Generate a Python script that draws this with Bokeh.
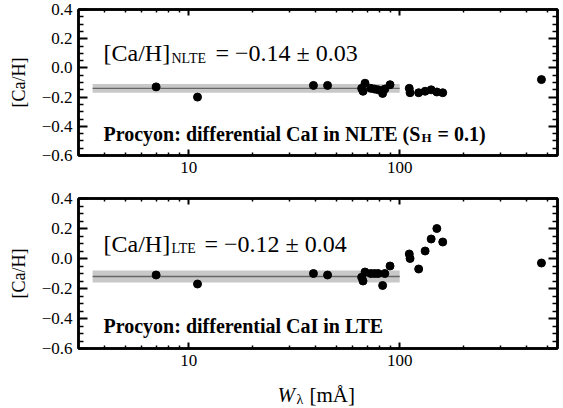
from bokeh.plotting import figure
from bokeh.models import (Range1d, FixedTicker, LogAxis, LinearAxis, Label,
                          CustomJSTickFormatter)
from bokeh.layouts import column
from bokeh.embed import file_html
from bokeh.resources import INLINE

# ---- data ----
w_lambda = [7.0, 11.0, 39.0, 45.5, 66, 67, 68.5, 73, 76, 79, 83, 85, 90,
            111, 112, 123, 132, 141, 150, 160, 470]
ca_nlte = [-0.13, -0.20, -0.12, -0.12, -0.14, -0.16, -0.105, -0.14, -0.145, -0.15,
           -0.175, -0.145, -0.115, -0.14, -0.17, -0.17, -0.16, -0.15, -0.165, -0.17, -0.08]
ca_lte = [-0.11, -0.17, -0.10, -0.11, -0.125, -0.15, -0.09, -0.10, -0.10, -0.10,
          -0.18, -0.10, -0.05, 0.03, 0.0, -0.07, 0.05, 0.13, 0.20, 0.11, -0.03]
nlte_mean, nlte_err = -0.14, 0.03
lte_mean, lte_err = -0.12, 0.04
fit_w_range = [3.5, 100.0]

x_major = [10, 100]
x_minor = [4, 5, 6, 7, 8, 9, 20, 30, 40, 50, 60, 70, 80, 90, 200, 300, 400, 500]
y_major = [-0.6, -0.4, -0.2, 0.0, 0.2, 0.4]
y_minor = [-0.55, -0.5, -0.45, -0.35, -0.3, -0.25, -0.15, -0.1, -0.05,
           0.05, 0.1, 0.15, 0.25, 0.3, 0.35]

FONT = "Liberation Serif"
LEFT, FRAME_W, RIGHT = 78, 479, 4


def fmt(v):
    return ("%.2f" % v).replace("-", "\u2212")


def style_axis(ax, ticks, minor, tick_in, minor_in, show_labels, formatter):
    ax.ticker = FixedTicker(ticks=ticks, minor_ticks=minor)
    ax.axis_line_width = 2.5
    ax.axis_line_color = "black"
    ax.major_tick_in = tick_in
    ax.major_tick_out = 0
    ax.minor_tick_in = minor_in
    ax.minor_tick_out = 0
    ax.major_tick_line_width = 2
    ax.minor_tick_line_width = 1.5
    ax.major_tick_line_color = "black"
    ax.minor_tick_line_color = "black"
    if show_labels:
        ax.formatter = formatter
        ax.major_label_text_font = FONT
        ax.major_label_text_font_size = "17px"
        ax.major_label_text_color = "black"
        ax.major_label_standoff = 6
    else:
        ax.major_label_text_font_size = "0px"
        ax.major_label_standoff = 0
        ax.formatter = CustomJSTickFormatter(code="return ''")


def lab(p, x, y, text, size, style="normal", dy=0, units="screen"):
    p.add_layout(Label(x=x, y=y, y_offset=dy, x_units=units, y_units="data", text=text,
                       text_font=FONT, text_font_size=size, text_font_style=style,
                       text_baseline="alphabetic", text_color="black"))


def make_panel(vals, mean, err, sub, sub_w, rest, bold_main, bold_sub, bold_rest,
               frame_h, border_top, border_bottom):
    p = figure(x_axis_type="log", x_range=Range1d(3.0, 560), y_range=Range1d(-0.6, 0.4),
               frame_width=FRAME_W, frame_height=frame_h,
               min_border_left=LEFT, min_border_right=RIGHT,
               min_border_top=border_top, min_border_bottom=border_bottom,
               output_backend="svg", toolbar_location=None)
    p.grid.visible = False
    p.outline_line_color = "black"
    p.outline_line_width = 2.5
    p.background_fill_color = "white"
    p.border_fill_color = "white"

    xfmt = CustomJSTickFormatter(code="return tick.toFixed(0)")
    yfmt = CustomJSTickFormatter(code="return tick.toFixed(1).replace('-', '\u2212')")
    style_axis(p.xaxis[0], x_major, x_minor, 6, 3, True, xfmt)
    style_axis(p.yaxis[0], y_major, y_minor, 9, 5, True, yfmt)
    p.yaxis[0].axis_label = "[Ca/H]"
    p.yaxis[0].axis_label_text_font = FONT
    p.yaxis[0].axis_label_text_font_style = "normal"
    p.yaxis[0].axis_label_text_font_size = "18px"
    p.yaxis[0].axis_label_text_color = "black"
    p.yaxis[0].axis_label_standoff = 10

    top_ax = LogAxis()
    style_axis(top_ax, x_major, x_minor, 6, 3, False, None)
    p.add_layout(top_ax, "above")
    right_ax = LinearAxis()
    style_axis(right_ax, y_major, y_minor, 9, 5, False, None)
    p.add_layout(right_ax, "right")

    # fit band and mean line
    p.quad(left=[fit_w_range[0]], right=[fit_w_range[1]], bottom=[mean - err], top=[mean + err],
           fill_color="#c8c8c8", line_color=None)
    p.line(fit_w_range, [mean, mean], line_color="#666666", line_width=1.3)

    p.scatter(w_lambda, vals, size=8, fill_color="black", line_color="black")

    # main annotation
    x0 = 25
    lab(p, x0, 0.1, "[Ca/H]", "24px")
    lab(p, x0 + 68, 0.1, sub, "14px", dy=-5)
    lab(p, x0 + 68 + sub_w, 0.1, rest, "24px")

    # bold caption
    lab(p, x0, -0.45, bold_main, "20px", "bold")
    if bold_sub:
        lab(p, x0 + 318, -0.45, bold_sub, "13px", "bold", dy=-4)
        lab(p, x0 + 334, -0.45, bold_rest, "20px", "bold")
    return p


top = make_panel(ca_nlte, nlte_mean, nlte_err, "NLTE", 44,
                 "= " + fmt(nlte_mean) + " \u00b1 " + ("%.2f" % nlte_err),
                 "Procyon: differential CaI in NLTE (S", "H", "= 0.1)",
                 146, 9, 32)
bot = make_panel(ca_lte, lte_mean, lte_err, "LTE", 33,
                 "= " + fmt(lte_mean) + " \u00b1 " + ("%.2f" % lte_err),
                 "Procyon: differential CaI in LTE", None, None,
                 150, 11, 26)

# x-axis label strip: W_lambda [mÅ]
STRIP_H = 32
xl = figure(x_range=Range1d(0, FRAME_W), y_range=Range1d(0, STRIP_H),
            frame_width=FRAME_W, frame_height=STRIP_H,
            min_border_left=LEFT, min_border_right=RIGHT, min_border_top=0, min_border_bottom=0,
            x_axis_location=None, y_axis_location=None,
            output_backend="svg", toolbar_location=None)
xl.grid.visible = False
xl.outline_line_color = None
xl.border_fill_color = "white"
xl.background_fill_color = "white"
lab(xl, 199, 12, "W", "21px", "italic", units="data")
lab(xl, 218, 12, "\u03bb", "14px", dy=-5, units="data")
lab(xl, 231, 12, "[m\u00c5]", "21px", units="data")

layout = column(top, bot, xl, spacing=0)
open("out.html", "w").write(file_html(layout, INLINE))
